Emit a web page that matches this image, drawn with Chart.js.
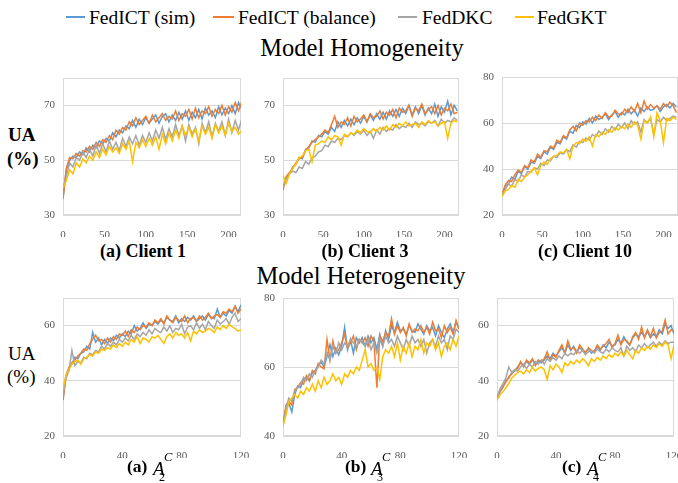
<!DOCTYPE html>
<html lang="en">
  <head>
    <meta charset="UTF-8" />
    <title>UA curves</title>
    <script src="https://cdn.jsdelivr.net/npm/chart.js@4.4.1/dist/chart.umd.min.js"></script>
    <style>
      html, body {
        margin: 0;
        padding: 0;
        background: #fff;
        overflow: hidden;
      }
      body {
        width: 678px;
        height: 483px;
        position: relative;
        font-family: "Liberation Serif", "DejaVu Serif", "Noto Serif", "Times New Roman", serif;
        color: #000;
      }
      .t {
        position: absolute;
        white-space: nowrap;
        line-height: 1;
      }
      .sw {
        position: absolute;
        height: 2px;
      }
      .panel {
        position: absolute;
      }
      .mid {
        transform: translateX(-50%);
      }
    </style>
  </head>

  <body>
    <!-- legend -->
    <div class="sw" style="left:66px;top:16px;width:19px;background:#5b9bd5"></div>
    <div class="t" style="left:89px;top:7.7px;font-size:19.5px">FedICT (sim)</div>
    <div class="sw" style="left:213px;top:16px;width:21px;background:#ed7d31"></div>
    <div class="t" style="left:238px;top:7.7px;font-size:19.5px">FedICT (balance)</div>
    <div class="sw" style="left:398px;top:16px;width:19px;background:#a5a5a5"></div>
    <div class="t" style="left:422px;top:7.7px;font-size:19.5px">FedDKC</div>
    <div class="sw" style="left:515px;top:16px;width:19px;background:#ffc000"></div>
    <div class="t" style="left:537px;top:7.7px;font-size:19.5px">FedGKT</div>

    <div class="t mid" style="left:362px;top:35.5px;font-size:24.5px">Model Homogeneity</div>
    <div class="t mid" style="left:361px;top:264.2px;font-size:24.5px">Model Heterogeneity</div>

    <div class="t" style="left:8px;top:124.8px;font-size:19px;font-weight:bold">UA</div>
    <div class="t" style="left:7px;top:148.8px;font-size:19px;font-weight:bold">(%)</div>
    <div class="t" style="left:8px;top:343.8px;font-size:19px">UA</div>
    <div class="t" style="left:7px;top:367px;font-size:19px">(%)</div>

    <div class="panel" style="left:33px;top:62px"><canvas id="c1" width="226" height="175"></canvas></div>
    <div class="panel" style="left:253px;top:62px"><canvas id="c3" width="224" height="175"></canvas></div>
    <div class="panel" style="left:472px;top:61px"><canvas id="c10" width="224" height="176"></canvas></div>
    <div class="panel" style="left:33px;top:282px"><canvas id="a2" width="226" height="176"></canvas></div>
    <div class="panel" style="left:253px;top:282px"><canvas id="a3" width="224" height="176"></canvas></div>
    <div class="panel" style="left:467px;top:282px"><canvas id="a4" width="225" height="176"></canvas></div>

    <div class="t mid" style="left:143px;top:242px;font-size:18px;font-weight:bold">(a) Client 1</div>
    <div class="t mid" style="left:365px;top:242px;font-size:18px;font-weight:bold">(b) Client 3</div>
    <div class="t mid" style="left:585px;top:242px;font-size:18px;font-weight:bold">(c) Client 10</div>

    <div class="t" style="left:127px;top:458.3px;font-size:17.5px;font-weight:bold">(a)</div>
    <div class="t" style="left:153px;top:458.7px;font-size:19px;font-style:italic">A</div>
    <div class="t" style="left:159px;top:471px;font-size:12px">2</div>
    <div class="t" style="left:164px;top:450.5px;font-size:12.5px;font-style:italic">C</div>

    <div class="t" style="left:345px;top:458.3px;font-size:17.5px;font-weight:bold">(b)</div>
    <div class="t" style="left:371px;top:458.7px;font-size:19px;font-style:italic">A</div>
    <div class="t" style="left:377px;top:471px;font-size:12px">3</div>
    <div class="t" style="left:382px;top:450.5px;font-size:12.5px;font-style:italic">C</div>

    <div class="t" style="left:562px;top:458.3px;font-size:17.5px;font-weight:bold">(c)</div>
    <div class="t" style="left:587px;top:458.7px;font-size:19px;font-style:italic">A</div>
    <div class="t" style="left:593px;top:471px;font-size:12px">4</div>
    <div class="t" style="left:598px;top:450.5px;font-size:12.5px;font-style:italic">C</div>

    <script>
      // top row: one value every 4 rounds, bottom row: every 2 rounds
      const topStep = 4;
      const botStep = 2;
      const topXTicks = [0, 50, 100, 150, 200];
      const botXTicks = [0, 40, 80, 120];

      const seriesNames = ["FedICT (sim)", "FedICT (balance)", "FedDKC", "FedGKT"];
      const seriesColors = ["#5b9bd5", "#ed7d31", "#a5a5a5", "#ffc000"];

      // Model homogeneity, Client 1
      const c1_sim = [36, 46.5, 50, 51.5, 51, 53, 52, 54.5, 53, 55.5, 54.5, 57, 56, 58, 57, 60, 58.5, 61, 60, 62.5, 61.5, 64.5, 62, 65, 63, 65.5, 63.5, 65, 66.5, 63.5, 66, 67, 64, 66.5, 64.5, 67.5, 65, 68, 64.5, 67.5, 65.5, 68.5, 65, 69, 66.5, 68, 65.5, 69.5, 66.5, 69, 67, 70, 67, 71, 68.5];
      const c1_bal = [36, 47, 51, 50.5, 52.5, 51.5, 53.5, 53, 55, 54, 56.5, 55, 57.5, 56.5, 59, 57.5, 61, 59.5, 62, 61, 64, 62.5, 65.5, 63, 64.5, 66, 63.5, 66.5, 64, 65.5, 67, 64.5, 66, 65, 68, 64.5, 67, 66, 68.5, 65, 69, 65.5, 68, 67, 69.5, 66, 68.5, 67, 70, 66.5, 69.5, 67.5, 71, 68, 71.5];
      const c1_dkc = [40, 44, 49, 47.5, 51, 50, 53, 51, 54, 51.5, 55.5, 52.5, 56, 53, 57, 54, 56.5, 53.5, 58, 55, 58.5, 56, 59, 55.5, 59, 56.5, 60, 57, 61, 58, 62, 57.5, 61.5, 58.5, 63, 59, 62.5, 57, 63, 59.5, 62, 56, 63.5, 60, 64, 58.5, 63.5, 60.5, 64, 59, 65, 60, 64.5, 61, 65];
      const c1_gkt = [40, 42.5, 46.5, 45, 49, 47.5, 50.5, 49, 51.5, 50, 53, 51, 54, 52, 55, 53, 54.5, 52.5, 56, 54, 57, 49.5, 56.5, 54.5, 57.5, 55, 58, 55.5, 58.5, 54, 59.5, 56, 60, 57, 61, 58, 62.5, 59, 62, 58.5, 61.5, 57, 62.5, 59.5, 62, 58, 63, 60, 62.5, 59, 63.5, 60.5, 62, 59.5, 61];

      // Client 3
      const c3_sim = [40, 43.5, 45, 47.5, 48.5, 51, 50.5, 54, 54.5, 57, 56.5, 59, 58.5, 60.5, 59.5, 62, 60.5, 64, 62, 64.5, 62.5, 65, 63, 65.5, 63.5, 66, 64, 66.5, 64.5, 67, 65, 67.5, 65, 68, 66, 68.5, 66, 69, 67, 70, 66.5, 69.5, 67, 70, 66.5, 69, 67, 70.5, 66, 69.5, 67.5, 71.5, 66.5, 70, 68];
      const c3_bal = [39, 44, 45.5, 47, 49, 50.5, 51, 53.5, 55, 56.5, 57.5, 58.5, 59.5, 61, 60, 63, 66, 62, 64, 63, 65.5, 62.5, 66, 64, 65, 66.5, 64, 67, 65.5, 66, 68, 65, 67.5, 66.5, 68.5, 65.5, 69, 67.5, 68, 70, 66, 69, 68, 70.5, 67, 68.5, 69.5, 67, 70, 66.5, 69, 68, 70.5, 67, 67.5];
      const c3_dkc = [40, 43, 45, 46, 45.5, 47.5, 47, 49.5, 48.5, 51, 51.5, 53, 53.5, 55.5, 55, 57, 56.5, 58, 57.5, 59, 58.5, 60, 59, 60.5, 59.5, 61, 59, 60.5, 58, 61, 59.5, 62, 60.5, 61.5, 61, 63, 61.5, 62.5, 62, 63.5, 62, 64, 63, 63.5, 62.5, 64, 63.5, 64.5, 62.5, 65, 63.5, 64.5, 64, 65.5, 64.5];
      const c3_gkt = [44.5, 41.5, 45, 47, 48.5, 51, 51.5, 53.5, 54, 49.5, 55.5, 56, 57, 56.5, 58.5, 57.5, 59, 58.5, 55.5, 59.5, 58.5, 60, 59.5, 61, 60, 61.5, 60.5, 60, 61.5, 60.5, 62, 61, 62.5, 61, 63, 62, 63.5, 62.5, 64, 62.5, 63, 63.5, 62, 64, 63, 64.5, 63.5, 64, 62.5, 63.5, 64, 58, 63.5, 64.5, 64];

      // Client 10
      const c10_sim = [28, 32.5, 33.5, 36.5, 35.5, 39, 38, 41, 40, 43, 42.5, 45.5, 44.5, 47.5, 46.5, 49.5, 48.5, 51.5, 51, 54, 53, 56.5, 55.5, 59, 58, 60.5, 59.5, 62, 60, 63, 61.5, 62.5, 64, 61.5, 63.5, 65, 62.5, 64.5, 63.5, 66, 64, 65.5, 63, 66.5, 65, 67, 65.5, 66, 67.5, 65, 67, 68, 66.5, 68.5, 67];
      const c10_bal = [29, 33, 35, 34.5, 37.5, 39.5, 38.5, 41.5, 40.5, 44, 43, 46.5, 45, 48, 47.5, 50, 49, 52.5, 51.5, 54.5, 53.5, 57, 58.5, 56.5, 60, 59, 61, 60.5, 62.5, 61, 63.5, 62, 64.5, 62.5, 63, 65.5, 64, 63.5, 66, 64.5, 67, 65, 68.5, 64.5, 69.5, 66, 68, 66.5, 67.5, 66, 68.5, 67, 69, 67.5, 64.5];
      const c10_dkc = [29, 31, 33.5, 32.5, 35.5, 34.5, 37.5, 36.5, 39, 38.5, 40.5, 40, 42.5, 41.5, 44, 43.5, 45.5, 45, 47, 46.5, 48.5, 47.5, 50.5, 49.5, 52, 51.5, 53.5, 52.5, 55, 54, 56.5, 55, 57.5, 56, 58.5, 57, 59.5, 58, 60, 57.5, 61, 59.5, 60.5, 56, 61.5, 60, 62, 55, 61.5, 60.5, 62.5, 61, 62, 63, 62.5];
      const c10_gkt = [28, 30.5, 31, 33, 32, 35.5, 34.5, 36.5, 37.5, 39, 40.5, 37.5, 41.5, 43, 42, 44.5, 45.5, 46, 47.5, 47, 48.5, 44.5, 50, 51.5, 51, 53, 52, 54, 50, 55, 54, 56, 55, 57, 56, 58, 57, 58.5, 57.5, 59.5, 58, 60.5, 59, 53, 61, 60, 62.5, 54, 64.5, 61, 51.5, 62, 61, 62.5, 61.5];

      // Model heterogeneity, A2
      const a2_sim = [33, 42, 44.5, 46, 48.5, 48, 50, 50.5, 52.5, 51.5, 57.5, 54, 55.5, 53, 55, 53.5, 55.5, 54.5, 56.5, 55.5, 57, 56, 58, 57, 60, 58, 59, 61, 59, 60.5, 60, 61.5, 60.5, 62, 61, 63, 62, 61.5, 63.5, 61, 62.5, 61.5, 63, 62, 63.5, 61.5, 62.5, 63.5, 62, 64, 63, 62.5, 66, 63, 64.5, 63.5, 65.5, 64.5, 67, 65, 67.5];
      const a2_bal = [33, 41.5, 45, 46.5, 47.5, 49, 50, 51.5, 51, 53.5, 55, 56.5, 54.5, 55, 53.5, 55.5, 54, 56, 55, 57, 56.5, 58, 56, 58.5, 57.5, 59.5, 58.5, 60, 59.5, 61, 60, 62, 61, 62.5, 60.5, 63.5, 62, 61, 63, 62, 61.5, 63.5, 61, 62.5, 63, 61.5, 63.5, 62, 63, 64.5, 62.5, 63.5, 64, 63, 65, 64.5, 66, 65, 67, 64.5, 66];
      const a2_dkc = [35, 41, 43.5, 51, 45.5, 47, 46.5, 48.5, 48, 50, 49.5, 51, 50.5, 52.5, 51.5, 53.5, 52.5, 54, 53, 55, 54, 55.5, 54.5, 56.5, 55, 57, 56, 57.5, 56.5, 58.5, 57, 59, 58, 57.5, 59.5, 58, 60, 57.5, 59, 58.5, 60.5, 57, 59.5, 60, 58.5, 61, 59, 60.5, 58.5, 61.5, 60, 59, 62, 60.5, 61.5, 62.5, 60.5, 63, 64.5, 61.5, 62.5];
      const a2_gkt = [37, 42, 44, 46, 47, 47.5, 46, 48, 48.5, 49.5, 49, 50.5, 50, 51.5, 51, 52, 51.5, 53, 52, 53.5, 52.5, 54, 53, 55, 54, 56, 53.5, 55.5, 55, 54, 56, 55.5, 56.5, 55, 53.5, 56, 57, 55.5, 57.5, 56.5, 57, 55.5, 57.5, 54.5, 58, 57, 58.5, 57.5, 58, 59, 58.5, 57.5, 59.5, 58.5, 60, 59, 60.5, 59.5, 59, 58, 58.5];

      // A3
      const a3_sim = [43, 48, 49.5, 47, 52, 54.5, 54, 56.5, 57, 56, 58.5, 59, 60.5, 61.5, 60, 63, 66.5, 63, 65.5, 63.5, 66, 71.5, 65, 68, 64, 68.5, 67, 68.5, 66, 69, 67, 68.5, 65, 69.5, 66, 70.5, 68, 72, 70, 73, 70.5, 71, 69.5, 72, 70.5, 70, 72.5, 71, 69.5, 72, 70.5, 71.5, 69, 72, 70, 68.5, 71, 72.5, 70, 73, 71];
      const a3_bal = [43, 49, 50, 49, 53.5, 54, 55.5, 55, 57.5, 56, 59, 58, 61, 60, 59.5, 68, 62, 67.5, 64, 65, 67, 69.5, 65.5, 67, 69, 65, 68, 67, 68.5, 66, 69, 67.5, 54, 69, 67.5, 70, 69, 74, 69.5, 72, 70, 71.5, 69, 72.5, 70, 71, 70.5, 72, 70, 71.5, 69.5, 73, 70.5, 71, 68.5, 72, 70, 71.5, 69.5, 73.5, 71];
      const a3_dkc = [44, 48, 51, 50, 53, 54, 55, 57, 56, 58, 57, 59, 60, 62, 61, 64, 62, 66, 64, 67, 65, 67, 66, 68, 67, 66, 68, 67, 66, 68, 65, 67, 64, 68, 66, 69, 67, 68, 66, 69, 67, 65, 68, 66, 69, 67, 68, 66, 68, 64, 67, 68, 66, 69, 67, 68, 65, 69, 68, 71, 70];
      const a3_gkt = [43, 46, 50, 51, 52, 51, 53, 52, 54, 53, 55, 53, 56, 54, 57, 55, 56, 58, 56, 57, 55, 58, 57, 59, 58, 60, 59, 62, 65, 60, 61, 59, 60, 56.5, 63, 65, 64, 66, 63, 67, 62, 66, 64, 67, 63, 66, 65, 68, 64, 67, 66, 68, 65, 67, 63, 66, 67, 65, 68, 66, 69];

      // A4
      const a4_sim = [33, 36, 37.5, 40, 41, 43, 43.5, 45, 46.5, 45.5, 47, 46, 47.5, 46, 47, 46.5, 47.5, 49, 48, 50, 49, 50.5, 52, 50, 53, 51, 52.5, 50.5, 52, 51, 50.5, 51.5, 50, 51, 52.5, 51, 53, 52, 54, 52.5, 53, 55, 53.5, 56, 54, 53, 55.5, 57, 56, 57.5, 56, 58, 55.5, 57, 56, 58.5, 57, 60.5, 59, 60, 57];
      const a4_bal = [33, 36.5, 38, 39.5, 41.5, 42.5, 44, 44.5, 47, 45, 47.5, 46.5, 48, 45.5, 47.5, 47, 48, 50.5, 47.5, 49.5, 48.5, 51, 53, 50, 54.5, 51.5, 52, 50, 53, 51.5, 50, 52, 51, 50.5, 53, 51.5, 52.5, 53.5, 55, 52, 53.5, 56.5, 53, 55, 54.5, 53, 56, 57.5, 55, 59.5, 55.5, 58.5, 56, 59, 55.5, 57.5, 58, 62, 57, 58.5, 58];
      const a4_dkc = [34, 37, 39, 41, 45, 43, 44, 43.5, 45, 46, 44.5, 46, 45, 47, 46, 47.5, 46, 48, 47, 48.5, 47.5, 49, 48, 50, 49, 50, 49.5, 51, 50, 51, 49.5, 50.5, 51, 50, 51.5, 50.5, 50, 51.5, 50.5, 52, 51, 50.5, 52, 49, 52.5, 51, 52, 50.5, 53, 52, 53.5, 52, 53, 54, 52.5, 54, 53, 54.5, 53.5, 54, 54];
      const a4_gkt = [33, 35, 36, 37.5, 39, 41, 42, 43, 43.5, 42.5, 44, 43, 45, 43.5, 44.5, 45, 44, 40.5, 45.5, 44, 46, 45, 43, 46.5, 45.5, 47, 46, 47.5, 46.5, 48, 47, 45.5, 48, 47, 48.5, 47.5, 49, 48, 49.5, 48.5, 50, 49, 50.5, 49, 51, 49.5, 48, 51, 50, 52, 51, 52.5, 51.5, 53, 52, 53.5, 52.5, 54, 53, 48, 53];

      // plot area border
      const frame = {
        id: "frame",
        beforeDatasetsDraw(chart) {
          const a = chart.chartArea;
          const ctx = chart.ctx;
          ctx.save();
          ctx.strokeStyle = "#d9d9d9";
          ctx.lineWidth = 1;
          ctx.strokeRect(a.left + 0.5, a.top + 0.5, a.width - 1, a.height - 1);
          ctx.restore();
        }
      };

      const tickFont = { family: "'Liberation Serif', 'DejaVu Serif', 'Noto Serif', serif", size: 11 };

      function makePanel(id, series, step, xMax, xTicks, yMin, yMax, yTicks) {
        const datasets = series.map(function(vals, k) {
          return {
            label: seriesNames[k],
            data: vals.map((v, i) => ({ x: i * step, y: v })),
            borderColor: seriesColors[k],
            borderWidth: 1.5,
            pointRadius: 0,
            tension: 0,
            fill: false,
            order: 4 - k
          };
        });
        return new Chart(document.getElementById(id), {
          type: "line",
          data: { datasets: datasets },
          options: {
            responsive: false,
            animation: false,
            // the y axis asks for label height / 2 + padding on top, so keep room for it
            layout: { padding: { left: 0, right: 18, top: 16, bottom: 0 } },
            plugins: { legend: { display: false }, tooltip: { enabled: false } },
            scales: {
              x: {
                type: "linear",
                min: 0,
                max: xMax,
                afterBuildTicks: s => { s.ticks = xTicks.map(v => ({ value: v })); },
                afterFit: s => { s.height = 22; },
                grid: { display: false },
                border: { display: false },
                ticks: { color: "#595959", font: tickFont, padding: 6, maxRotation: 0, autoSkip: false }
              },
              y: {
                min: yMin,
                max: yMax,
                afterBuildTicks: s => { s.ticks = yTicks.map(v => ({ value: v })); },
                afterFit: s => { s.width = 30; },
                grid: { color: "#d9d9d9", lineWidth: 1, drawTicks: false },
                border: { display: false },
                ticks: { color: "#595959", font: tickFont, padding: 8 }
              }
            }
          },
          plugins: [frame]
        });
      }

      makePanel("c1", [c1_sim, c1_bal, c1_dkc, c1_gkt], topStep, 215, topXTicks, 30, 80, [30, 50, 70]);
      makePanel("c3", [c3_sim, c3_bal, c3_dkc, c3_gkt], topStep, 218, topXTicks, 30, 80, [30, 50, 70]);
      makePanel("c10", [c10_sim, c10_bal, c10_dkc, c10_gkt], topStep, 218, topXTicks, 20, 80, [20, 40, 60, 80]);
      makePanel("a2", [a2_sim, a2_bal, a2_dkc, a2_gkt], botStep, 120, botXTicks, 20, 70, [20, 40, 60]);
      makePanel("a3", [a3_sim, a3_bal, a3_dkc, a3_gkt], botStep, 120, botXTicks, 40, 80, [40, 60, 80]);
      makePanel("a4", [a4_sim, a4_bal, a4_dkc, a4_gkt], botStep, 120, botXTicks, 20, 70, [20, 40, 60]);
    </script>
  </body>
</html>
